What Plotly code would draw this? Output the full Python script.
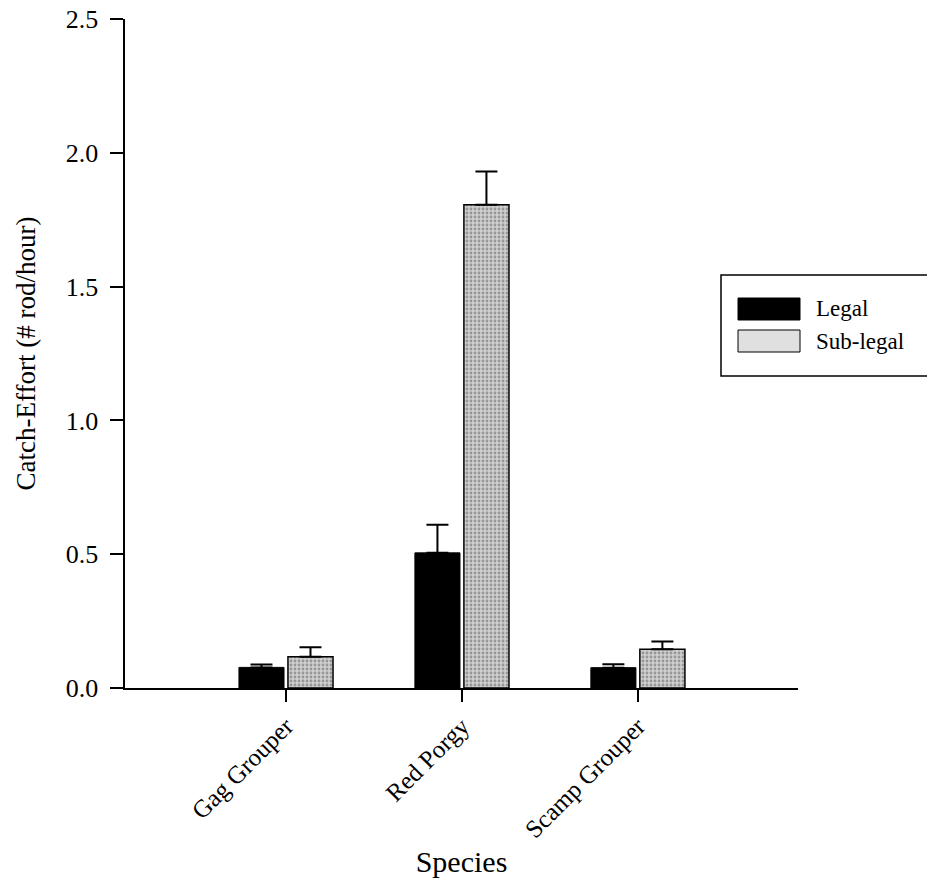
import plotly.graph_objects as go

species = ["Gag Grouper", "Red Porgy", "Scamp Grouper"]
series_names = ["Legal", "Sub-legal"]
legal = [0.077, 0.505, 0.076]
legal_err = [0.011, 0.105, 0.013]
sublegal = [0.117, 1.806, 0.145]
sublegal_err = [0.035, 0.124, 0.029]
y_ticks = [0.0, 0.5, 1.0, 1.5, 2.0, 2.5]

FONT = "Liberation Serif, Times New Roman, serif"
xpos = list(range(len(species)))

fig = go.Figure()
fig.add_trace(go.Bar(
    x=xpos, y=legal, name=series_names[0],
    marker=dict(color="black", line=dict(color="black", width=1)),
    error_y=dict(type="data", array=legal_err, arrayminus=[0]*3, symmetric=False,
                 color="black", thickness=2, width=11),
    showlegend=False,
))
fig.add_trace(go.Bar(
    x=xpos, y=sublegal, name=series_names[1],
    marker=dict(color="#c4c4c4", line=dict(color="black", width=1.5),
                pattern=dict(shape=".", fgcolor="#5e5e5e", bgcolor="#cfcfcf",
                             size=4, solidity=0.4)),
    error_y=dict(type="data", array=sublegal_err, arrayminus=[0]*3, symmetric=False,
                 color="black", thickness=2, width=11),
    showlegend=False,
))

# Manual legend (large swatches like the original)
px_w, px_h = 673.0, 669.0
def px2paper(x, y):
    return (x - 125) / px_w, (688 - y) / px_h

x0, y0 = px2paper(721, 275)
x1, y1 = px2paper(940, 376)
fig.add_shape(type="rect", xref="paper", yref="paper", x0=x0, y0=y1, x1=x1, y1=y0,
              line=dict(color="black", width=1.5), fillcolor="white", layer="above")
swatch_colors = ["black", "#e0e0e0"]
rows_y = [309, 341]
for name, col, ry in zip(series_names, swatch_colors, rows_y):
    sx0, sy0 = px2paper(738, ry - 11)
    sx1, sy1 = px2paper(800, ry + 11)
    fig.add_shape(type="rect", xref="paper", yref="paper", x0=sx0, y0=sy1, x1=sx1, y1=sy0,
                  line=dict(color="black", width=1), fillcolor=col, layer="above")
    tx, ty = px2paper(814, ry)
    fig.add_annotation(x=tx, y=ty, xref="paper", yref="paper", text=name, showarrow=False,
                       xanchor="left", yanchor="middle",
                       font=dict(family=FONT, size=23, color="black"))

fig.update_layout(
    width=927, height=884,
    margin=dict(l=125, r=129, t=19, b=196, autoexpand=False),
    paper_bgcolor="white", plot_bgcolor="white",
    barmode="group", bargap=0.443, bargroupgap=0.08,
    font=dict(family=FONT, size=26, color="black"),
    xaxis=dict(
        range=[-0.915, 2.91], tickmode="array", tickvals=xpos, ticktext=species,
        tickangle=-45, ticks="outside", ticklen=12, tickwidth=1.5, tickcolor="black",
        showline=True, linecolor="black", linewidth=1.5, showgrid=False, zeroline=False,
        tickfont=dict(family=FONT, size=25), automargin=False,
        title=dict(text="Species", font=dict(family=FONT, size=30), standoff=9),
    ),
    yaxis=dict(
        range=[0, 2.5], tickmode="array", tickvals=y_ticks,
        ticktext=[f"{v:.1f}\u00a0" for v in y_ticks],
        ticks="outside", ticklen=13, tickwidth=2, tickcolor="black",
        showline=True, linecolor="black", linewidth=2, showgrid=False, zeroline=False,
        tickfont=dict(family=FONT, size=26), automargin=False,
        title=dict(text="Catch-Effort (# rod/hour)", font=dict(family=FONT, size=27), standoff=22),
    ),
)

fig.write_html("out.html")
